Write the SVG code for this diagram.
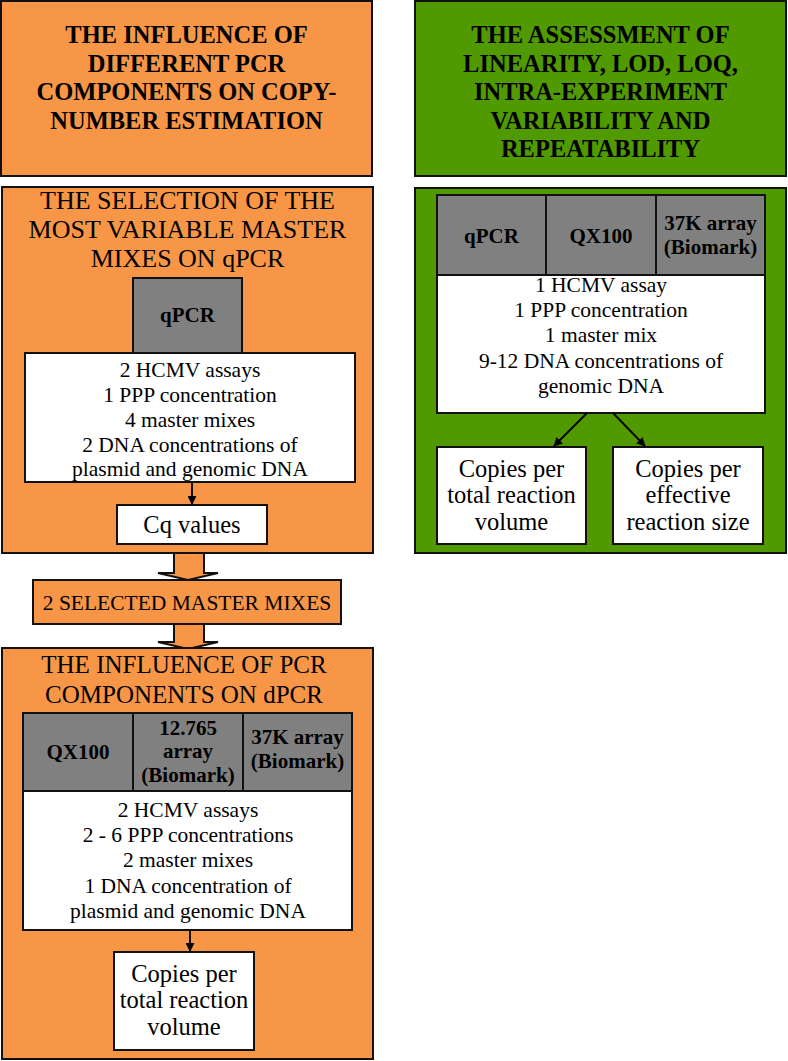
<svg xmlns="http://www.w3.org/2000/svg" width="788" height="1061" viewBox="0 0 788 1061">
<defs>
<style>
.o{fill:#F79646;stroke:#111;stroke-width:2}
.g{fill:#509A00;stroke:#111;stroke-width:2}
.gr{fill:#808080;stroke:#111;stroke-width:2}
.w{fill:#fff;stroke:#111;stroke-width:2}
text{font-family:"Liberation Serif","Times New Roman",serif;fill:#000;text-anchor:middle}
.hb{font-weight:bold;font-size:24.5px}
.t{font-size:26px}
.tb{font-size:25px}
.cb{font-weight:bold;font-size:21px}
.b{font-size:21.5px}
.c{font-size:24.5px}
.ln{stroke:#000;stroke-width:1.8;fill:none}
</style>
<marker id="ah" viewBox="0 0 10 10" refX="9" refY="5" markerWidth="5" markerHeight="5" orient="auto" markerUnits="strokeWidth">
<path d="M0,0 L10,5 L0,10 z" fill="#000"/>
</marker>
</defs>

<g id="header-left">
<rect class="o" x="1" y="1" width="371" height="175"/>
<text class="hb" x="186.5" y="43">THE INFLUENCE OF</text>
<text class="hb" x="186.5" y="71.5">DIFFERENT PCR</text>
<text class="hb" x="186.5" y="100">COMPONENTS ON COPY-</text>
<text class="hb" x="186.5" y="128.5">NUMBER ESTIMATION</text>
</g>

<g id="header-right">
<rect class="g" x="415" y="1" width="371" height="175"/>
<text class="hb" x="600.5" y="43">THE ASSESSMENT OF</text>
<text class="hb" x="600.5" y="71.5">LINEARITY, LOD, LOQ,</text>
<text class="hb" x="600.5" y="100">INTRA-EXPERIMENT</text>
<text class="hb" x="600.5" y="128.5">VARIABILITY AND</text>
<text class="hb" x="600.5" y="157">REPEATABILITY</text>
</g>

<g id="block-arrows">
<polygon class="o" points="174,553 204,553 204,573 218,573 188,580 158,573 174,573"/>
<polygon class="o" points="174,624 204,624 204,642 218,642 188,649 158,642 174,642"/>
</g>

<g id="selection">
<rect class="o" x="2" y="187" width="371" height="366"/>
<text class="t" x="187.5" y="209">THE SELECTION OF THE</text>
<text class="t" x="187.5" y="238">MOST VARIABLE MASTER</text>
<text class="t" x="187.5" y="267">MIXES ON qPCR</text>
</g>
<g id="sel-qpcr">
<rect class="gr" x="133" y="278" width="109" height="75"/>
<text class="cb" x="187.5" y="322">qPCR</text>
</g>
<g id="sel-params">
<rect class="w" x="25" y="353" width="330" height="129"/>
<text class="b" x="190" y="377">2 HCMV assays</text>
<text class="b" x="190" y="402">1 PPP concentration</text>
<text class="b" x="190" y="427">4 master mixes</text>
<text class="b" x="190" y="452">2 DNA concentrations of</text>
<text class="b" x="190" y="476">plasmid and genomic DNA</text>
</g>
<g id="cq">
<rect class="w" x="117" y="505" width="150" height="39"/>
<text class="c" x="192" y="533">Cq values</text>
</g>

<g id="selected">
<rect class="o" x="33" y="580" width="308" height="44"/>
<text class="b" x="187" y="610">2 SELECTED MASTER MIXES</text>
</g>

<g id="dpcr">
<rect class="o" x="2" y="648" width="371" height="411"/>
<text class="tb" x="184" y="673">THE INFLUENCE OF PCR</text>
<text class="tb" x="184" y="703">COMPONENTS ON dPCR</text>
</g>
<g id="dpcr-instruments">
<rect class="gr" x="23" y="713" width="110" height="78"/>
<rect class="gr" x="133" y="713" width="110" height="78"/>
<rect class="gr" x="243" y="713" width="109" height="78"/>
<text class="cb" x="78" y="759">QX100</text>
<text class="cb" x="188" y="735">12.765</text>
<text class="cb" x="188" y="758">array</text>
<text class="cb" x="188" y="782">(Biomark)</text>
<text class="cb" x="297.5" y="744">37K array</text>
<text class="cb" x="297.5" y="768">(Biomark)</text>
</g>
<g id="dpcr-params">
<rect class="w" x="23" y="791" width="329" height="139"/>
<text class="b" x="188" y="817">2  HCMV assays</text>
<text class="b" x="188" y="842">2 - 6 PPP concentrations</text>
<text class="b" x="188" y="867">2 master mixes</text>
<text class="b" x="188" y="893">1 DNA concentration of</text>
<text class="b" x="188" y="918">plasmid and genomic DNA</text>
</g>
<g id="dpcr-copies">
<rect class="w" x="114" y="952" width="140" height="98"/>
<text class="c" x="184" y="982">Copies per</text>
<text class="c" x="184" y="1008">total reaction</text>
<text class="c" x="184" y="1035">volume</text>
</g>

<g id="assessment">
<rect class="g" x="415" y="188" width="371" height="365"/>
</g>
<g id="assess-instruments">
<rect class="gr" x="437" y="195" width="109" height="80"/>
<rect class="gr" x="546" y="195" width="110" height="80"/>
<rect class="gr" x="656" y="195" width="109" height="80"/>
<text class="cb" x="491.5" y="243">qPCR</text>
<text class="cb" x="601" y="243">QX100</text>
<text class="cb" x="710.5" y="230">37K array</text>
<text class="cb" x="710.5" y="254">(Biomark)</text>
</g>
<g id="assess-params">
<rect class="w" x="437" y="275" width="328" height="138"/>
<text class="b" x="601" y="292">1 HCMV assay</text>
<text class="b" x="601" y="317">1 PPP concentration</text>
<text class="b" x="601" y="342">1 master mix</text>
<text class="b" x="601" y="368">9-12 DNA concentrations of</text>
<text class="b" x="601" y="393">genomic DNA</text>
</g>
<g id="assess-total">
<rect class="w" x="437" y="447" width="149" height="97"/>
<text class="c" x="511.5" y="477">Copies per</text>
<text class="c" x="511.5" y="503">total reaction</text>
<text class="c" x="511.5" y="530">volume</text>
</g>
<g id="assess-effective">
<rect class="w" x="613" y="447" width="150" height="97"/>
<text class="c" x="688" y="477">Copies per</text>
<text class="c" x="688" y="503">effective</text>
<text class="c" x="688" y="530">reaction size</text>
</g>

<g id="connectors">
<line class="ln" x1="192" y1="482" x2="192" y2="504" marker-end="url(#ah)"/>
<line class="ln" x1="190" y1="930" x2="190" y2="951" marker-end="url(#ah)"/>
<line class="ln" x1="587" y1="413" x2="554" y2="446" marker-end="url(#ah)"/>
<line class="ln" x1="613" y1="413" x2="645" y2="446" marker-end="url(#ah)"/>
</g>
</svg>
